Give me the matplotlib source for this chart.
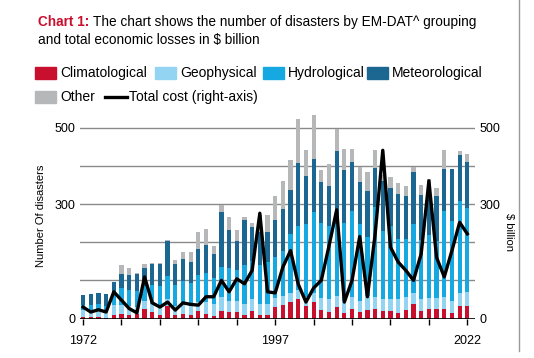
import numpy as np
import matplotlib
matplotlib.use("Agg")
import matplotlib.pyplot as plt
from matplotlib.patches import Rectangle
from matplotlib.lines import Line2D

plt.rcParams['font.family'] = ['Liberation Sans', 'DejaVu Sans']

years = list(range(1972, 2023))
climatological = [3, 3, 4, 2, 10, 13, 9, 11, 26, 17, 9, 32, 9, 13, 9, 19, 13, 7, 20, 17,
                  17, 9, 20, 9, 9, 30, 35, 43, 50, 32, 43, 23, 17, 30, 15, 26, 16, 23, 26, 20,
                  20, 15, 22, 37, 20, 24, 24, 26, 15, 33, 34]
geophysical = [18, 18, 16, 16, 25, 22, 25, 20, 20, 22, 25, 20, 25, 25, 25, 25, 30, 30, 37, 30,
               30, 30, 30, 30, 30, 25, 25, 25, 25, 25, 25, 30, 35, 30, 30, 30, 30, 35, 30, 30,
               30, 35, 35, 30, 30, 30, 30, 30, 30, 35, 35]
hydrological = [14, 14, 17, 16, 26, 45, 40, 40, 40, 48, 50, 60, 55, 60, 60, 70, 75, 70, 78, 85,
                80, 100, 100, 100, 110, 106, 118, 154, 168, 191, 210, 197, 191, 188, 205, 227, 202, 155, 235, 180,
                193, 159, 152, 181, 155, 165, 150, 225, 210, 240, 220]
meteorological = [26, 30, 30, 30, 35, 36, 39, 45, 47, 55, 58, 92, 54, 59, 54, 69, 75, 61, 145, 100,
                  75, 120, 91, 87, 79, 97, 109, 115, 164, 126, 139, 107, 105, 191, 139, 128, 109, 122, 103, 130,
                  99, 117, 113, 135, 120, 116, 117, 110, 136, 121, 122]
other = [0, 0, 0, 0, 0, 23, 20, 2, 10, 3, 3, 3, 11, 17, 26, 43, 42, 21, 18, 35,
         30, 6, 9, 46, 44, 64, 74, 78, 117, 69, 116, 32, 56, 59, 56, 34, 39, 49, 47, 15,
         28, 28, 26, 14, 25, 30, 21, 50, 0, 11, 21]
total_cost = [30, 17, 23, 17, 70, 48, 26, 15, 109, 41, 30, 43, 22, 41, 37, 35, 57, 57, 100, 70,
              104, 91, 126, 276, 70, 67, 135, 178, 90, 43, 80, 100, 190, 285, 43, 100, 215, 57, 220, 441,
              187, 148, 126, 100, 170, 361, 160, 109, 178, 252, 222]

series = [
    ("Climatological", climatological, "#c8102e"),
    ("Geophysical", geophysical, "#93d4f3"),
    ("Hydrological", hydrological, "#16a9e1"),
    ("Meteorological", meteorological, "#1b6791"),
    ("Other", other, "#b5b7b9"),
]

W, H = 534, 358
fig = plt.figure(figsize=(W / 100, H / 100), dpi=100)
ax = fig.add_axes([80 / W, 1 - 318.5 / H, 395 / W, 206 / H])
ax2 = ax.twinx()

x = np.array(years)
bottom = np.zeros(len(years))
for name, vals, col in series:
    ax.bar(x, vals, width=0.55, bottom=bottom, color=col, zorder=2, linewidth=0)
    bottom += np.array(vals)

ax2.plot(x, total_cost, color="black", lw=2.4, solid_joinstyle="round", zorder=5)

for a in (ax, ax2):
    a.set_ylim(0, 540)
    a.set_xlim(1971.6, 2023.0)
    for s in a.spines.values():
        s.set_visible(False)

ax.set_yticks(range(0, 600, 100))
ax.set_yticklabels(["0", "", "", "300", "", "500"], fontsize=9)
ax.tick_params(axis="y", length=0, pad=3)
ax.grid(axis="y", color="#8a8a8a", lw=1.0, zorder=0)
ax.set_axisbelow(True)
ax.axhline(0, color="black", lw=1.2, zorder=3)

ax2.set_yticks([0, 300, 500])
ax2.set_yticklabels(["0", "300", "500"], fontsize=9)
ax2.tick_params(axis="y", length=0, pad=3)

ax.set_xticks(range(1972, 2023, 5))
ax.set_xticklabels(["1972", "", "", "", "", "1997", "", "", "", "", "2022"], fontsize=9)
ax.tick_params(axis="x", length=4, width=1, color="black", pad=8)

ax.set_ylabel("Number Of disasters", fontsize=8)
ax.yaxis.set_label_coords(-0.085, 0.5)
ax2.set_ylabel("$ billion", fontsize=8, rotation=270, va="center")
ax2.yaxis.set_label_coords(1.085, 0.42)

# title
t1 = fig.text(38 / W, 1 - 22 / H, "Chart 1:", color="#c8102e", fontsize=9.8,
              fontweight="bold", va="center", ha="left")
fig.canvas.draw()
bb = t1.get_window_extent()
fig.text((bb.x1 + 4) / W, 1 - 22 / H,
         "The chart shows the number of disasters by EM-DAT^ grouping",
         fontsize=9.8, va="center", ha="left")
fig.text(38 / W, 1 - 40 / H, "and total economic losses in $ billion",
         fontsize=9.8, va="center", ha="left")

# legend
legend_pos = [(35, 73), (155, 73), (263, 73), (367, 73), (35, 97)]
for (name, vals, col), (lx, ly) in zip(series, legend_pos):
    fig.patches.append(Rectangle((lx / W, 1 - (ly + 6) / H), 21 / W, 12 / H,
                                 transform=fig.transFigure, color=col))
    fig.text((lx + 25) / W, 1 - ly / H, name, fontsize=10, va="center", ha="left")
fig.lines.append(Line2D([105 / W, 127 / W], [1 - 97 / H, 1 - 97 / H],
                        transform=fig.transFigure, color="black", lw=2.4))
fig.text(129 / W, 1 - 97 / H, "Total cost (right-axis)", fontsize=10, va="center", ha="left")

# page border on the right
fig.lines.append(Line2D([519 / W, 519 / W], [0.02, 1.0], transform=fig.transFigure,
                        color="#9a9a9a", lw=1.0))

fig.savefig("out.png", dpi=100)
